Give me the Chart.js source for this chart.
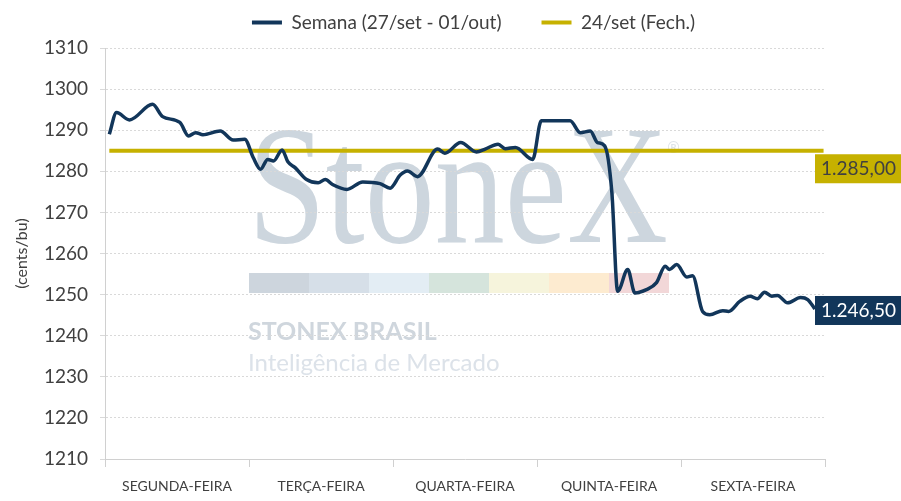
<!DOCTYPE html>
<html>
<head>
<meta charset="utf-8">
<script src="https://cdn.jsdelivr.net/npm/chart.js@4"></script>
<style>
  html, body { margin: 0; padding: 0; background: #fff; }
  #wrap { width: 901px; height: 501px; }
</style>
</head>
<body>
<div id="wrap"><canvas id="myChart" width="901" height="501"></canvas></div>
<script>
// dias da semana (eixo x)
const dias = ['SEGUNDA-FEIRA', 'TERÇA-FEIRA', 'QUARTA-FEIRA', 'QUINTA-FEIRA', 'SEXTA-FEIRA'];

// tempo em fração de dia (0 = abertura de segunda)
const tempo = [0.03, 0.08, 0.17, 0.33, 0.40, 0.52, 0.58, 0.63, 0.68, 0.80, 0.89, 0.97,
    1.03, 1.08, 1.13, 1.17, 1.23, 1.27, 1.32, 1.40, 1.48, 1.53, 1.58, 1.68, 1.79, 1.91, 1.98,
    2.05, 2.10, 2.17, 2.31, 2.36, 2.47, 2.58, 2.64, 2.73, 2.78, 2.85, 2.97,
    3.03, 3.23, 3.30, 3.37, 3.42, 3.47, 3.52, 3.56, 3.63, 3.68, 3.76, 3.83, 3.89, 3.92, 3.97,
    4.04, 4.08, 4.15, 4.20, 4.29, 4.33, 4.41, 4.48, 4.53, 4.58, 4.63, 4.67, 4.74, 4.83, 4.88, 4.93];

// cotação da semana (cents/bu)
const semana = [1289.0, 1294.3, 1292.5, 1296.3, 1293.3, 1291.9, 1288.6, 1289.4, 1288.9, 1289.8, 1287.6, 1287.8,
    1283.3, 1280.5, 1282.9, 1282.5, 1285.2, 1282.3, 1280.9, 1278.0, 1277.2, 1278.0, 1276.8, 1275.6, 1277.4, 1277.0, 1275.9,
    1279.1, 1280.1, 1278.7, 1285.4, 1284.4, 1287.0, 1284.7, 1285.4, 1286.6, 1285.5, 1285.8, 1282.9,
    1292.3, 1292.3, 1289.4, 1289.8, 1287.0, 1286.2, 1274.8, 1250.8, 1256.1, 1250.4, 1251.2, 1252.9, 1256.9, 1256.1, 1257.3,
    1254.3, 1254.6, 1245.9, 1245.1, 1246.1, 1245.9, 1248.4, 1249.6, 1249.0, 1250.6, 1249.6, 1249.8, 1248.0, 1249.3, 1248.8, 1246.5];

// fechamento de 24/set
const fechamento = 1285.0;

// eixo y
const yMin = 1210, yMax = 1310, yPasso = 10;

const corSemana = '#12365a';
const corFech = '#c6b100';

function fmtBR(v) {
    const partes = v.toFixed(2).split('.');
    return partes[0].replace(/\B(?=(\d{3})+(?!\d))/g, '.') + ',' + partes[1];
}

// marca d'água StoneX
const marcaDagua = {
    id: 'marcaDagua',
    beforeDraw(chart) {
        const c = chart.ctx;
        c.save();
        c.fillStyle = '#cdd6de';
        c.font = '170px "Liberation Serif"';
        c.textBaseline = 'alphabetic';
        c.fillText('StoneX', 248, 242, 420);
        c.font = '15px "DejaVu Sans"';
        c.fillStyle = '#dde3e8';
        c.fillText('®', 666, 153);
        const faixa = ['#cdd5dd', '#d6dfe8', '#e3edf4', '#d5e4dc', '#f6f4dc', '#fdebd0', '#f2d7d8'];
        faixa.forEach(function (cor, i) {
            c.fillStyle = cor;
            c.fillRect(249 + i * 60, 273, 60, 20);
        });
        c.textBaseline = 'middle';
        c.fillStyle = '#cfd6dd';
        c.font = 'bold 25px Lato';
        c.fillText('STONEX BRASIL', 248, 332, 193);
        c.fillStyle = '#dce2e9';
        c.font = '24px Lato';
        c.fillText('Inteligência de Mercado', 248, 363, 259);
        c.restore();
    }
};

// caixas com o último valor de cada série
const rotulosFinais = {
    id: 'rotulosFinais',
    afterDatasetsDraw(chart) {
        const c = chart.ctx;
        const y = chart.scales.y;
        const left = chart.chartArea.right - 10;
        c.save();
        c.font = '19px Lato';
        c.textBaseline = 'middle';
        c.textAlign = 'left';
        // fechamento (abaixo da linha)
        let py = y.getPixelForValue(fechamento);
        c.fillStyle = corFech;
        c.fillRect(left, py + 3.5, 86, 29);
        c.fillStyle = '#404040';
        c.fillText(fmtBR(fechamento), left + 6, py + 18.5);
        // semana
        const ult = semana[semana.length - 1];
        py = y.getPixelForValue(ult);
        c.fillStyle = corSemana;
        c.fillRect(left, py - 13, 86, 29);
        c.fillStyle = '#ffffff';
        c.fillText(fmtBR(ult), left + 6, py + 2);
        c.restore();
    }
};

// legenda: altura fixa e deslocada para a direita
const ajusteLegenda = {
    id: 'ajusteLegenda',
    beforeInit(chart) {
        const fit = chart.legend.fit;
        chart.legend.fit = function () {
            fit.bind(chart.legend)();
            this.height = 75;
        };
    },
    afterLayout(chart) {
        chart.legend.left += 61;
        chart.legend.right += 61;
    }
};

const ctx = document.getElementById('myChart');

new Chart(ctx, {
    type: 'line',
    data: {
        datasets: [{
            label: 'Semana (27/set - 01/out)',
            data: tempo.map(function (t, i) { return { x: t, y: semana[i] }; }),
            borderColor: corSemana,
            backgroundColor: corSemana,
            borderWidth: 3.5,
            pointRadius: 0,
            cubicInterpolationMode: 'monotone',
            xAxisID: 'x'
        }, {
            label: '24/set (Fech.)',
            data: [{ x: tempo[0], y: fechamento }, { x: 4.99, y: fechamento }],
            borderColor: corFech,
            backgroundColor: corFech,
            borderWidth: 4,
            pointRadius: 0,
            xAxisID: 'x'
        }]
    },
    options: {
        responsive: false,
        animation: false,
        devicePixelRatio: 1,
        layout: { padding: { top: -27, right: 76, left: 0, bottom: 0 } },
        plugins: {
            legend: {
                display: true,
                labels: {
                    color: '#404040',
                    font: { family: 'Lato', size: 19 },
                    boxWidth: 30,
                    boxHeight: 4,
                    padding: 40,
                    generateLabels: function (chart) {
                        return Chart.defaults.plugins.legend.labels.generateLabels(chart).map(function (it) {
                            it.lineWidth = 0;
                            return it;
                        });
                    }
                }
            },
            tooltip: { enabled: false }
        },
        scales: {
            x: {
                type: 'linear',
                min: 0, max: 5,
                display: false
            },
            xd: {
                type: 'category',
                labels: dias,
                position: 'bottom',
                offset: true,
                grid: { offset: true, drawOnChartArea: false, tickLength: 8, color: '#d0d0d0' },
                border: { color: '#d0d0d0', width: 1 },
                ticks: { color: '#404040', font: { family: 'Lato', size: 14 }, padding: 11, maxRotation: 0 },
                afterFit: function (scale) { scale.height = 42; }
            },
            y: {
                min: yMin, max: yMax,
                ticks: {
                    stepSize: yPasso, color: '#404040', font: { family: 'Lato', size: 19 }, padding: 12,
                    callback: function (v) { return String(v); }
                },
                grid: { color: '#d9d9d9', tickLength: 5 },
                border: { color: '#d0d0d0', dash: [2, 2] },
                title: { display: true, text: '(cents/bu)', color: '#404040', font: { family: 'Lato', size: 16 }, padding: { top: 12, bottom: 0 } },
                afterFit: function (scale) { scale.width = 105; }
            }
        }
    },
    plugins: [marcaDagua, rotulosFinais, ajusteLegenda]
});
</script>
</body>
</html>
